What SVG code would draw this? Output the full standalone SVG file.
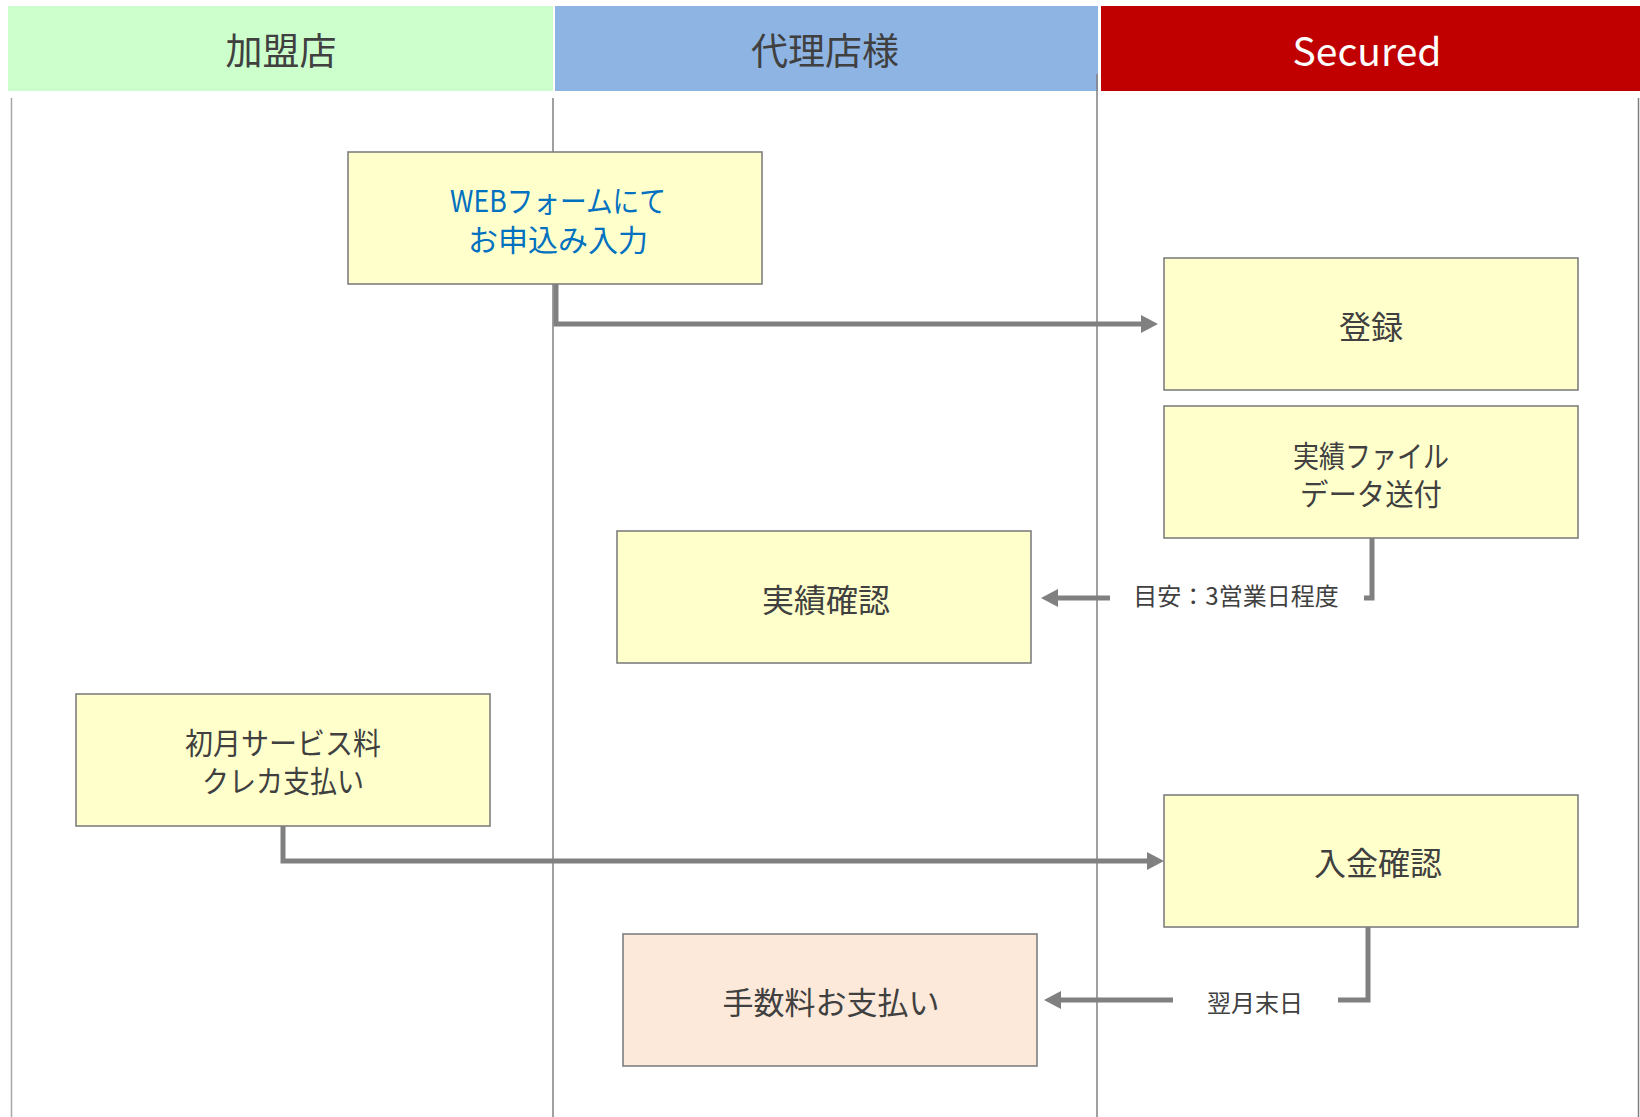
<svg xmlns="http://www.w3.org/2000/svg" width="1640" height="1117" viewBox="0 0 1640 1117">
<style>
.t{font-family:"Noto Sans CJK JP","Noto Sans",sans-serif;fill:#404040;text-anchor:middle;dominant-baseline:central}
.h{font-size:37px}
.b{font-size:30px}
.k{font-size:32px}
.l{font-size:24px}
.box{fill:#FFFFCC;stroke:#7F7F7F;stroke-width:1.6}
.lane{stroke:#7F7F7F;stroke-width:1.5;fill:none}
.con{stroke:#808080;stroke-width:5;fill:none}
</style>
<defs>
<marker id="ah" markerUnits="userSpaceOnUse" markerWidth="17" markerHeight="18" viewBox="0 0 17 18" refX="2" refY="9" orient="auto">
<path d="M0 0 L17 9 L0 18 Z" fill="#808080"/>
</marker>
</defs>
<rect width="1640" height="1117" fill="#FFFFFF"/>
<g id="headers">
<rect x="8" y="6" width="545" height="85" fill="#CCFFCC"/>
<rect x="555" y="6" width="543" height="85" fill="#8EB4E3"/>
<rect x="1101" y="6" width="539" height="85" fill="#C00000"/>
<text class="t h" x="281" y="49">加盟店</text>
<text class="t h" x="825" y="49">代理店様</text>
<text class="t h" x="1367" y="49" style="fill:#FFFFFF;font-size:39px">Secured</text>
</g>
<g id="lanes">
<line class="lane" x1="11.5" y1="98" x2="11.5" y2="1117" style="stroke:#A6A6A6"/>
<line class="lane" x1="553" y1="98" x2="553" y2="1117"/>
<line class="lane" x1="1097" y1="74" x2="1097" y2="1117"/>
<line class="lane" x1="1638.5" y1="98" x2="1638.5" y2="1117"/>
</g>
<g id="connectors">
<path class="con" d="M556 283.5 V324 H1143" marker-end="url(#ah)"/>
<path class="con" d="M1372 538 V598 H1364"/>
<path class="con" d="M1110 598 H1056" marker-end="url(#ah)"/>
<path class="con" d="M1368 926 V1000 H1338"/>
<path class="con" d="M1173 1000 H1059" marker-end="url(#ah)"/>
<path class="con" d="M283 826 V861 H1149" marker-end="url(#ah)"/>
<text class="t l" x="1236" y="594">目安：3営業日程度</text>
<text class="t l" x="1255" y="1001">翌月末日</text>
</g>
<g id="n-web">
<rect class="box" x="348" y="152" width="414" height="132"/>
<text class="t b" style="fill:#0070C0"><tspan x="558" y="199" textLength="216" lengthAdjust="spacingAndGlyphs">WEBフォームにて</tspan><tspan x="558" y="238">お申込み入力</tspan></text>
</g>
<g id="n-touroku">
<rect class="box" x="1164" y="258" width="414" height="132"/>
<text class="t k" x="1371" y="325">登録</text>
</g>
<g id="n-file">
<rect class="box" x="1164" y="406" width="414" height="132"/>
<text class="t b"><tspan x="1371" y="454" textLength="156" lengthAdjust="spacingAndGlyphs">実績ファイル</tspan><tspan x="1371" y="492" textLength="142" lengthAdjust="spacingAndGlyphs">データ送付</tspan></text>
</g>
<g id="n-kakunin">
<rect class="box" x="617" y="531" width="414" height="132"/>
<text class="t k" x="826" y="598">実績確認</text>
</g>
<g id="n-shogetsu">
<rect class="box" x="76" y="694" width="414" height="132"/>
<text class="t b"><tspan x="283" y="741" textLength="196" lengthAdjust="spacingAndGlyphs">初月サービス料</tspan><tspan x="283" y="779" textLength="162" lengthAdjust="spacingAndGlyphs">クレカ支払い</tspan></text>
</g>
<g id="n-nyukin">
<rect class="box" x="1164" y="795" width="414" height="132"/>
<text class="t k" x="1378" y="861">入金確認</text>
</g>
<g id="n-tesuryo">
<rect class="box" x="623" y="934" width="414" height="132" style="fill:#FDE9D9"/>
<text class="t b" x="831" y="1000" style="font-size:31px">手数料お支払い</text>
</g>
</svg>
